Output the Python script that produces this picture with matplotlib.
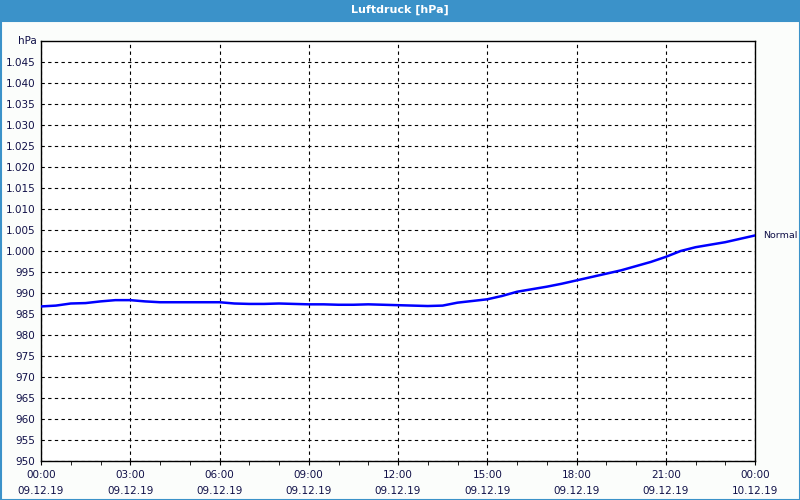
import numpy as np
import pandas as pd
import matplotlib
matplotlib.use("Agg")
import matplotlib.pyplot as plt
import matplotlib.dates as mdates
from matplotlib.patches import Rectangle
from matplotlib.ticker import FixedLocator, FuncFormatter

# air pressure, every 30 minutes from 09.12.19 00:00 to 10.12.19 00:00
pressure = [
    986.8, 987.0, 987.5, 987.6, 988.0, 988.3, 988.3, 988.0, 987.8, 987.8,
    987.8, 987.8, 987.8, 987.5, 987.4, 987.4, 987.5, 987.4, 987.3, 987.3,
    987.2, 987.2, 987.3, 987.2, 987.1, 987.0, 986.9, 987.0, 987.7, 988.1,
    988.5, 989.3, 990.3, 990.9, 991.5, 992.2, 993.0, 993.8, 994.6, 995.4,
    996.4, 997.4, 998.6, 1000.0, 1000.9, 1001.5, 1002.1, 1002.9, 1003.7,
]
times = pd.date_range("2019-12-09 00:00", "2019-12-10 00:00", freq="30min")
y_ticks = list(range(950, 1050, 5))
series_label = "Normal"
title = "Luftdruck [hPa]"
unit = "hPa"

text_col = "#101048"
bar_col = "#3b92c9"

fig = plt.figure(figsize=(8, 5), dpi=100)
fig.patch.set_facecolor("#fbfdfb")

# title bar and frame
fig.patches.append(Rectangle((0, 1 - 20 / 500), 1, 20 / 500, transform=fig.transFigure,
                             facecolor=bar_col, edgecolor="none", zorder=0))
fig.patches.append(Rectangle((0.5 / 800, 0.5 / 500), 799 / 800, 479 / 500, transform=fig.transFigure,
                             facecolor="none", edgecolor=bar_col, linewidth=1.5, zorder=0))
fig.text(0.5, 1 - 10 / 500, title, color="white", fontsize=8, fontweight="bold",
         ha="center", va="center")

ax = fig.add_axes([41 / 800, 1 - 461 / 500, 714 / 800, 420 / 500])
ax.set_facecolor("white")
ax.plot(times, pressure, color="#0000ff", linewidth=1.8, zorder=3)

ax.set_xlim(times[0], times[-1])
ax.set_ylim(950, 1050)

ax.yaxis.set_major_locator(FixedLocator(y_ticks))
ax.yaxis.set_major_formatter(FuncFormatter(lambda v, p: f"{v:,.0f}".replace(",", ".")))
ax.tick_params(axis="y", length=0, pad=4, labelsize=7.5, labelcolor=text_col)

ax.xaxis.set_major_locator(mdates.HourLocator(byhour=range(0, 24, 3)))
ax.xaxis.set_minor_locator(mdates.HourLocator())
ax.xaxis.set_major_formatter(mdates.DateFormatter("%H:%M\n%d.%m.%y"))
ax.tick_params(axis="x", which="both", length=3, direction="out", pad=3.5,
               labelsize=7.5, labelcolor=text_col)
for lab in ax.get_xticklabels():
    lab.set_linespacing(1.7)

ax.grid(True, which="major", color="black", linestyle=(0, (3, 3)), linewidth=0.8)
for s in ax.spines.values():
    s.set_color("black")
    s.set_linewidth(1)

ax.text(-0.006, 1.0, unit, transform=ax.transAxes, ha="right", va="center",
        fontsize=7.5, color=text_col)
ax.annotate(series_label, xy=(times[-1], pressure[-1]), xytext=(6, 0),
            textcoords="offset points", va="center", ha="left",
            fontsize=6.8, color=text_col, annotation_clip=False)

fig.savefig("out.png", dpi=100, facecolor=fig.get_facecolor())
